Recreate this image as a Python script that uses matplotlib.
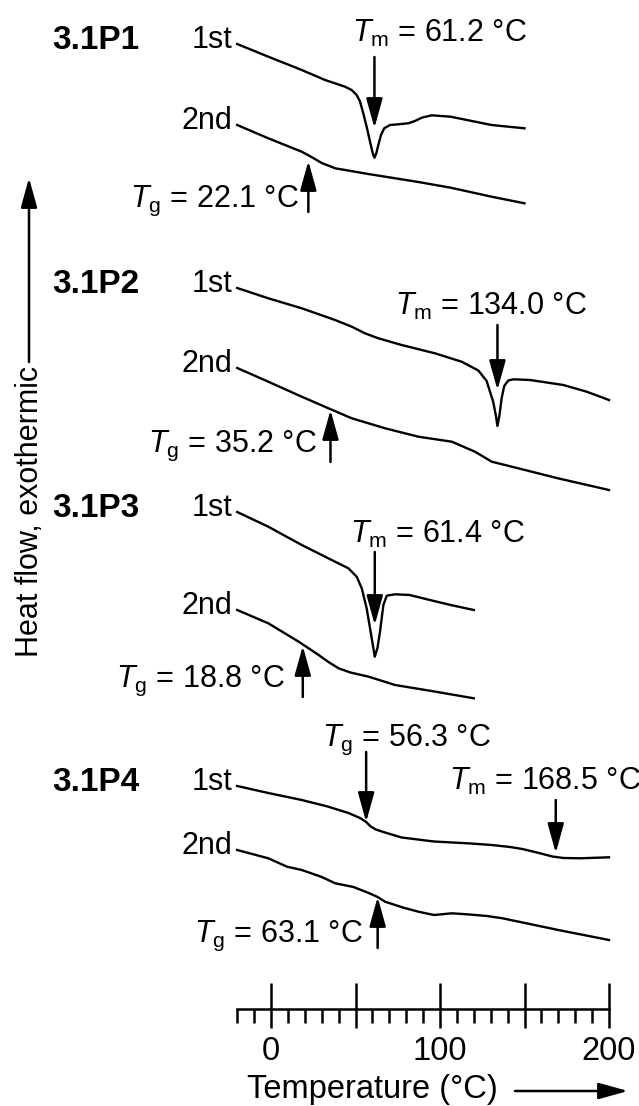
import matplotlib
matplotlib.use('Agg')
import matplotlib.pyplot as plt
import numpy as np
from matplotlib.ticker import MultipleLocator, FuncFormatter

plt.rcParams['font.family'] = ['Liberation Sans', 'DejaVu Sans']
plt.rcParams['mathtext.fontset'] = 'custom'
plt.rcParams['mathtext.rm'] = 'Liberation Sans'
plt.rcParams['mathtext.it'] = 'Liberation Sans:italic'

# DSC traces: temperature (°C) and heat flow (a.u., exo up),
# each trace measured from its own starting value
p1_t_1st = [-20, -1.6, 18.2, 32, 43.8, 47.7, 50.7, 52.7, 54.6, 56.6, 58.6, 60.2, 61.2,
            62.3, 63.5, 65.1, 67.0, 70.4, 75.3, 81.2, 85.2, 89.2, 95.1, 106.3, 130.5, 150]
p1_hf_1st = [0, -12.7, -26, -36, -42.7, -46, -51, -57.7, -69.3, -82.7, -97.7, -109.3, -113.7,
             -109.3, -101, -91, -84.3, -81, -80.3, -79.3, -77, -73.7, -71.3, -72.7, -81, -84.3]
p1_t_2nd = [-20, -1.6, 18.2, 25, 30, 38, 57.6, 87.2, 106.3, 130.5, 150]
p1_hf_2nd = [0, -13.3, -26.7, -33, -38, -43.3, -49, -57, -62.7, -71.7, -78.3]

p2_t_1st = [-20, -1.6, 18.2, 37.9, 47.8, 55.6, 63.5, 77.3, 97, 112.8, 122.7, 127.6, 131.5,
            133, 134, 135.2, 136.5, 138, 140.4, 143.4, 153.3, 173, 186.8, 200]
p2_hf_1st = [0, -10.3, -20.3, -32, -38.7, -45.3, -50.3, -57, -65.3, -73.7, -82.5, -93, -114,
             -127, -138, -127, -110, -98, -92.5, -91.3, -92, -97, -103.7, -112]
p2_t_2nd = [-20, -1.6, 18.2, 34, 47.8, 67.5, 87.2, 107, 120.7, 130.6, 138.5, 169.8, 200]
p2_hf_2nd = [0, -13.7, -28.7, -40.3, -50.3, -60.3, -68.7, -73.7, -83.7, -93.7, -97, -110.3, -122]

p3_t_1st = [-20, -1.6, 18.2, 37.9, 45.8, 50.7, 53.7, 56.6, 59.6, 61.4, 63.0, 64.5, 66.5,
            68.5, 73.4, 82, 94, 106.3, 120]
p3_hf_1st = [0, -14.7, -33, -49.7, -56.3, -64.7, -76.3, -96.3, -126.3, -144.7, -136, -119.7, -93,
             -83.7, -82.3, -83, -88, -93, -98]
p3_t_2nd = [-20, -1.6, 16.4, 28.2, 34, 40, 47, 57.8, 73.4, 95, 120]
p3_hf_2nd = [0, -13.3, -31.7, -45, -52, -58.3, -62.5, -66.7, -75, -81, -88.3]

p4_t_1st = [-20, -1.6, 18.2, 33.5, 45.8, 52.7, 56.3, 59, 62, 66.5, 77.3, 96.5, 118.3, 130.5,
            141.5, 148.7, 158.6, 166.5, 173, 183, 200]
p4_hf_1st = [0, -7, -14, -20.5, -27, -32, -36, -40.5, -43.5, -46, -51.5, -55.5, -57.5, -59,
             -61, -63, -67, -70.5, -72, -72.3, -71.3]
p4_t_2nd = [-20, -1.6, 9.5, 18.2, 29.6, 38, 48.8, 57.8, 63.1, 67.5, 78, 87.2, 96.5, 107, 116,
            127.8, 137, 170, 200]
p4_hf_2nd = [0, -8.3, -16.7, -20, -26.7, -33.3, -37, -43, -47, -51.7, -57.5, -61.7, -65, -63.3,
             -64.3, -66, -68.3, -80, -90]

samples = ['3.1P1', '3.1P2', '3.1P3', '3.1P4']
tm_values = [61.2, 134.0, 61.4, 168.5]
tg_values = [22.1, 35.2, 18.8, 63.1]
tg_first_p4 = 56.3

axis_major = [0, 50, 100, 150, 200]

# vertical stacking of the traces (px from top)
offsets = [(44, 125), (288, 368), (512, 610), (786, 850)]

traces = [
    ((p1_t_1st, p1_hf_1st), (p1_t_2nd, p1_hf_2nd)),
    ((p2_t_1st, p2_hf_1st), (p2_t_2nd, p2_hf_2nd)),
    ((p3_t_1st, p3_hf_1st), (p3_t_2nd, p3_hf_2nd)),
    ((p4_t_1st, p4_hf_1st), (p4_t_2nd, p4_hf_2nd)),
]

W, H = 639, 1106
X0, SC = 271, 1.69  # px of 0 °C, px per °C


def tx(xpx):
    return (xpx - X0) / SC


fig = plt.figure(figsize=(W / 100, H / 100), dpi=100)
ax = fig.add_axes([0, 0, 1, 1])
ax.set_xlim(tx(0), tx(W))
ax.set_ylim(H, 0)
ax.axis('off')

lw = 1.7
fs = 22
arrow = dict(arrowstyle='-|>,head_length=0.9,head_width=0.25', mutation_scale=20,
             lw=1.8, color='k', shrinkA=0, shrinkB=0)

for name, (y1, y2), (c1, c2) in zip(samples, offsets, traces):
    for (t, hf), y0, lab in ((c1, y1, '1st'), (c2, y2, '2nd')):
        ax.plot(t, y0 - np.array(hf), color='k', lw=lw, solid_joinstyle='round')
        ax.text(tx(232), y0 + 4, lab, ha='right', va='baseline', fontsize=fs)
    ax.text(tx(52), y1 + 5, name, ha='left', va='baseline', fontsize=24, fontweight='bold')


def mark(t, y_from, y_to):
    ax.annotate('', xy=(t, y_to), xytext=(t, y_from), arrowprops=arrow)


# melting peaks (arrows from above)
tm_arrows = [(57, 128), (325, 390), (552, 625), (800, 853)]
tm_text = [(352, 42), (395, 315), (350, 543), (449, 790)]
for tm, (ya, yb), (xt, yt) in zip(tm_values, tm_arrows, tm_text):
    mark(tm, ya, yb)
    ax.text(tx(xt), yt, r'$T_\mathrm{m}$' + f' = {tm:.1f} °C', ha='left', va='baseline',
            fontsize=fs)

# glass transitions of the 2nd heating (arrows from below)
tg_arrows = [(212, 161), (462, 410), (697, 646), (948, 897)]
tg_text = [(299, 207), (317, 452), (285, 687), (363, 942)]
for tg, (ya, yb), (xt, yt) in zip(tg_values, tg_arrows, tg_text):
    mark(tg, ya, yb)
    ax.text(tx(xt), yt, r'$T_\mathrm{g}$' + f' = {tg:.1f} °C', ha='right', va='baseline',
            fontsize=fs)

# first-heating Tg of 3.1P4
mark(tg_first_p4, 752, 822)
ax.text(tx(322), 746, r'$T_\mathrm{g}$' + f' = {tg_first_p4:.1f} °C', ha='left',
        va='baseline', fontsize=fs)

# y label with arrow
fig.text(30 / W, 1 - 366 / H, 'Heat flow, exothermic', rotation=90, ha='center', va='top',
         fontsize=fs)
mark(tx(29), 362, 178)

# temperature scale bar
ax2 = fig.add_axes([(X0 - 20 * SC) / W, (H - 1009) / H, 220 * SC / W, 0.04])
ax2.set_xlim(-20, 200)
ax2.patch.set_visible(False)
for s in ('left', 'right', 'top'):
    ax2.spines[s].set_visible(False)
ax2.spines['bottom'].set_linewidth(1.8)
ax2.set_yticks([])
ax2.xaxis.set_major_locator(MultipleLocator(50))
ax2.xaxis.set_minor_locator(MultipleLocator(10))
ax2.xaxis.set_major_formatter(FuncFormatter(lambda v, p: f'{v:.0f}' if v % 100 == 0 else ''))
ax2.tick_params(which='major', direction='out', length=13.7, width=1.8, pad=6, labelsize=23.5)
ax2.tick_params(which='minor', direction='out', length=10, width=1.8)
sec = ax2.secondary_xaxis('bottom')
sec.set_xticks(axis_major)
sec.tick_params(direction='in', length=18.7, width=1.8, labelbottom=False)
sec.spines['bottom'].set_visible(False)

fig.text(247 / W, 1 - 1098 / H, 'Temperature (°C)', ha='left', va='baseline', fontsize=23.5)
ax.annotate('', xy=(tx(628), 1091), xytext=(tx(515), 1091), arrowprops=arrow)

fig.savefig('out.png', dpi=100)
